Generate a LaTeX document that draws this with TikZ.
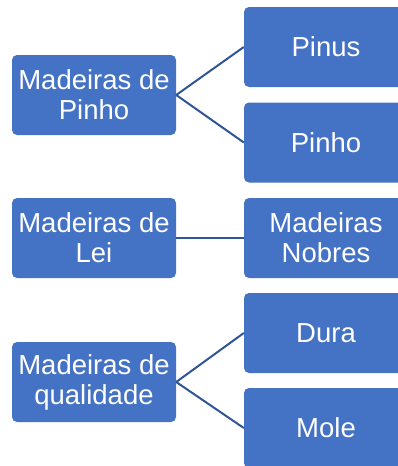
\documentclass[tikz,border=0pt]{standalone}
\usepackage{fontspec}
\setmainfont{Liberation Sans}
\definecolor{boxblue}{HTML}{4472C4}
\definecolor{lineblue}{HTML}{2F5597}
\begin{document}
\begin{tikzpicture}[x=1pt,y=-1pt,
  box/.style={draw=none, fill=boxblue, rounded corners=5pt, minimum width=164pt, minimum height=80pt,
    inner sep=0pt, text=white, align=center, font=\fontsize{27.5}{30}\selectfont},
  link/.style={draw=lineblue, line width=2pt}]
\useasboundingbox (0,0) rectangle (398,466);
\clip (0,0) rectangle (398,466);
\node[box] (l1) at (94,95) {Madeiras de\\Pinho};
\node[box] (l2) at (94,238) {Madeiras de\\Lei};
\node[box] (l3) at (94,382) {Madeiras de\\qualidade};
\node[box] (r1) at (326,47) {Pinus};
\node[box] (r2) at (326,142.5) {Pinho};
\node[box] (r3) at (326,238) {Madeiras\\Nobres};
\node[box] (r4) at (326,333) {Dura};
\node[box] (r5) at (326,428) {Mole};
\draw[link] (l1.east) -- (r1.west);
\draw[link] (l1.east) -- (r2.west);
\draw[link] (l2.east) -- (r3.west);
\draw[link] (l3.east) -- (r4.west);
\draw[link] (l3.east) -- (r5.west);
\end{tikzpicture}
\end{document}
